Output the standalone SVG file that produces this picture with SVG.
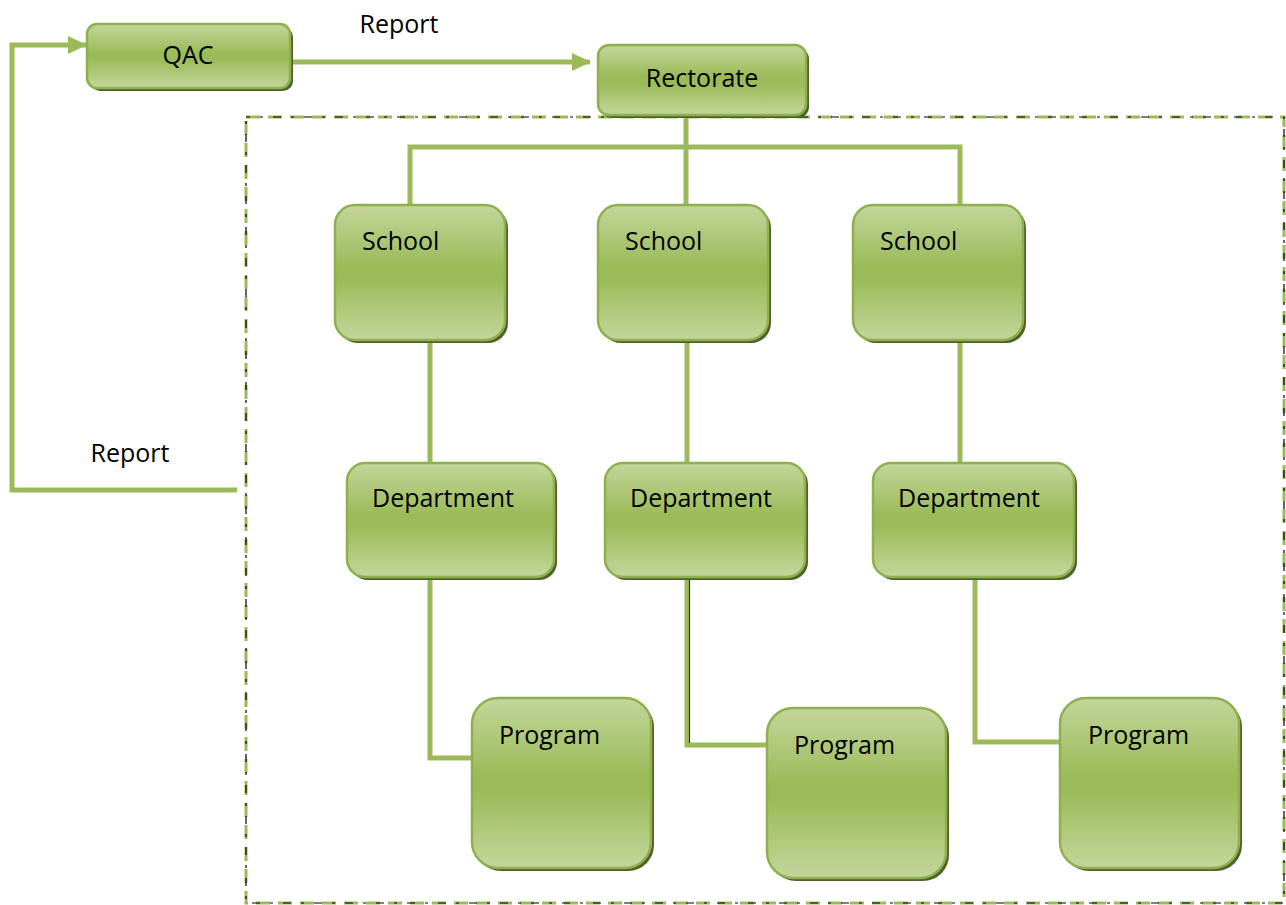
<svg xmlns="http://www.w3.org/2000/svg" width="1286" height="905" viewBox="0 0 1286 905">
<defs>
<linearGradient id="g" x1="0" y1="0" x2="0" y2="1">
<stop offset="0" stop-color="#c3d69b"/>
<stop offset="0.45" stop-color="#9bbb59"/>
<stop offset="0.55" stop-color="#9bbb59"/>
<stop offset="1" stop-color="#c3d69b"/>
</linearGradient>
<marker id="arr" markerWidth="20" markerHeight="20" refX="18" refY="10" orient="auto" markerUnits="userSpaceOnUse">
<path d="M0,1 L19,10 L0,19 Z" fill="#9bbb59"/>
</marker>
</defs>
<style>
.box{fill:url(#g);stroke:#8eb04f;stroke-width:2.5}
.sh{fill:#4f6228}
.t{font-family:"Open Sans","Liberation Sans",sans-serif;font-size:25px;fill:#000}
.c{fill:none;stroke:#9bbb59;stroke-width:5;stroke-linejoin:miter}
</style>
<rect width="1286" height="905" fill="#fff"/>
<g id="boundary">
<rect x="246" y="117" width="1038" height="786" fill="none" stroke="#9bbb59" stroke-width="3" stroke-dasharray="14 8"/>
<rect x="246" y="117" width="1038" height="786" fill="none" stroke="#000" stroke-width="1.2" stroke-dasharray="8 10 3 10" stroke-dashoffset="4"/>
</g>
<g id="connectors">
<path class="c" d="M291,62 L590,62" marker-end="url(#arr)"/>
<path class="c" d="M237,490 L12,490 L12,45 L86,45" marker-end="url(#arr)"/>
<path class="c" d="M686,116 L686,205"/>
<path class="c" d="M410,205 L410,147 L960,147 L960,205"/>
<path class="c" d="M430,340 L430,463"/>
<path class="c" d="M687,340 L687,463"/>
<path class="c" d="M960,340 L960,463"/>
<path class="c" d="M430,578 L430,758 L472,758"/>
<path class="c" d="M687,578 L687,745 L767,745"/>
<path d="M689.5,580 L689.5,743" stroke="#2f3a1a" stroke-width="1.2" fill="none"/>
<path class="c" d="M975,578 L975,742 L1060,742"/>
</g>
<g id="label-report-top"><text class="t" x="399" y="33" text-anchor="middle">Report</text></g>
<g id="label-report-left"><text class="t" x="130" y="462" text-anchor="middle">Report</text></g>
<g id="qac">
<rect class="sh" x="90" y="27" width="203" height="64" rx="10"/>
<rect class="box" x="87" y="24" width="203" height="64" rx="10"/>
<text class="t" x="188" y="64" text-anchor="middle">QAC</text>
</g>
<g id="rectorate">
<rect class="sh" x="601" y="48" width="208" height="70" rx="11"/>
<rect class="box" x="598" y="45" width="208" height="70" rx="11"/>
<text class="t" x="702" y="87" text-anchor="middle">Rectorate</text>
</g>
<g id="school1">
<rect class="sh" x="338" y="208" width="170" height="135" rx="20"/>
<rect class="box" x="335" y="205" width="170" height="135" rx="20"/>
<text class="t" x="362" y="250">School</text>
</g>
<g id="school2">
<rect class="sh" x="601" y="208" width="170" height="135" rx="20"/>
<rect class="box" x="598" y="205" width="170" height="135" rx="20"/>
<text class="t" x="625" y="250">School</text>
</g>
<g id="school3">
<rect class="sh" x="856" y="208" width="170" height="135" rx="20"/>
<rect class="box" x="853" y="205" width="170" height="135" rx="20"/>
<text class="t" x="880" y="250">School</text>
</g>
<g id="dept1">
<rect class="sh" x="350" y="466" width="207" height="114" rx="18"/>
<rect class="box" x="347" y="463" width="207" height="114" rx="18"/>
<text class="t" x="372" y="507">Department</text>
</g>
<g id="dept2">
<rect class="sh" x="608" y="466" width="200" height="114" rx="18"/>
<rect class="box" x="605" y="463" width="200" height="114" rx="18"/>
<text class="t" x="630" y="507">Department</text>
</g>
<g id="dept3">
<rect class="sh" x="876" y="466" width="201" height="114" rx="18"/>
<rect class="box" x="873" y="463" width="201" height="114" rx="18"/>
<text class="t" x="898" y="507">Department</text>
</g>
<g id="program1">
<rect class="sh" x="475" y="701" width="179" height="170" rx="26"/>
<rect class="box" x="472" y="698" width="179" height="170" rx="26"/>
<text class="t" x="499" y="744">Program</text>
</g>
<g id="program2">
<rect class="sh" x="770" y="711" width="179" height="170" rx="26"/>
<rect class="box" x="767" y="708" width="179" height="170" rx="26"/>
<text class="t" x="794" y="754">Program</text>
</g>
<g id="program3">
<rect class="sh" x="1063" y="701" width="179" height="170" rx="26"/>
<rect class="box" x="1060" y="698" width="179" height="170" rx="26"/>
<text class="t" x="1088" y="744">Program</text>
</g>
</svg>
